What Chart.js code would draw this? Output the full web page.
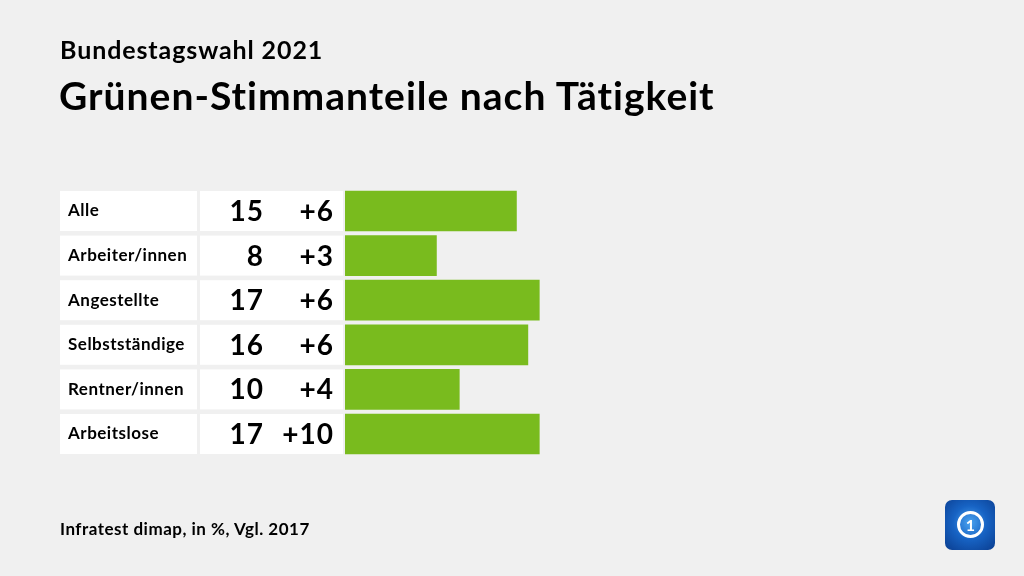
<!DOCTYPE html>
<html lang="de">
<head>
    <meta charset="utf-8">
    <title>Grünen-Stimmanteile nach Tätigkeit</title>
    <script src="https://cdn.jsdelivr.net/npm/chart.js"></script>
    <style>
        html, body { margin: 0; padding: 0; background: #f0f0f0; }
        #wrap { position: relative; width: 1024px; height: 576px; overflow: hidden; font-family: Lato, sans-serif; color: #000; }
        #chart { position: absolute; left: 0; top: 0; }
        .sub { position: absolute; left: 60px; top: 34px; font-size: 25px; font-weight: 700; letter-spacing: 0.9px; }
        .title { position: absolute; left: 59px; top: 72px; font-size: 39px; font-weight: 700; letter-spacing: 1px; }
        .src { position: absolute; left: 60px; top: 518px; font-size: 17px; font-weight: 700; letter-spacing: 0.5px; }
        .logo { position: absolute; left: 945px; top: 500px; width: 50px; height: 50px; border-radius: 7px;
                background: radial-gradient(circle at 50% 45%, #4aa3f0 0%, #1763c4 45%, #0a3d8f 100%); }
        .logo .ring { position: absolute; left: 12px; top: 11px; width: 21px; height: 21px; border: 3px solid #fff; border-radius: 50%;
                      color: #fff; font: 700 16px Lato, sans-serif; text-align: center; line-height: 21px; }
    </style>
</head>
<body>
<div id="wrap">
    <canvas id="chart" width="1024" height="576"></canvas>
    <div class="sub">Bundestagswahl 2021</div>
    <div class="title">Grünen-Stimmanteile nach Tätigkeit</div>
    <div class="src">Infratest dimap, in %, Vgl. 2017</div>
    <div class="logo"><div class="ring">1</div></div>
</div>

<script>
    // data
    const categories = ['Alle', 'Arbeiter/innen', 'Angestellte', 'Selbstständige', 'Rentner/innen', 'Arbeitslose'];
    const shares = [15, 8, 17, 16, 10, 17];
    const changes = [6, 3, 6, 6, 4, 10];

    // white cells + row texts, placed on the y scale rows
    const tablePlugin = {
        id: 'table',
        beforeDatasetsDraw(chart) {
            const ctx = chart.ctx;
            const y = chart.scales.y;
            const bars = chart.getDatasetMeta(0).data;
            ctx.save();
            categories.forEach((cat, i) => {
                const cy = y.getPixelForValue(i);
                const h = bars[i].height;
                ctx.fillStyle = '#ffffff';
                ctx.fillRect(60, cy - h / 2, 137, h);
                ctx.fillRect(200, cy - h / 2, 143, h);

                ctx.fillStyle = '#000';
                ctx.textBaseline = 'middle';
                ctx.textAlign = 'left';
                ctx.font = '700 17px Lato';
                ctx.letterSpacing = '0.5px';
                ctx.fillText(cat, 68, cy);

                ctx.textAlign = 'right';
                ctx.font = '700 28px Lato';
                ctx.letterSpacing = '1px';
                ctx.fillText(String(shares[i]), 264, cy + 1);
                ctx.fillText('+' + changes[i], 334, cy + 1);
            });
            ctx.restore();
        }
    };

    new Chart(document.getElementById('chart').getContext('2d'), {
        type: 'bar',
        data: {
            labels: categories,
            datasets: [{
                data: shares,
                backgroundColor: '#79bb1e',
                barThickness: 40,
                borderWidth: 0
            }]
        },
        options: {
            indexAxis: 'y',
            responsive: false,
            animation: false,
            layout: { padding: { left: 345, right: 107.5, top: 188.7, bottom: 119.7 } },
            scales: {
                x: { display: false, min: 0, max: 50 },
                y: { display: false }
            },
            plugins: {
                legend: { display: false },
                tooltip: { enabled: false }
            }
        },
        plugins: [tablePlugin]
    });
</script>
</body>
</html>
